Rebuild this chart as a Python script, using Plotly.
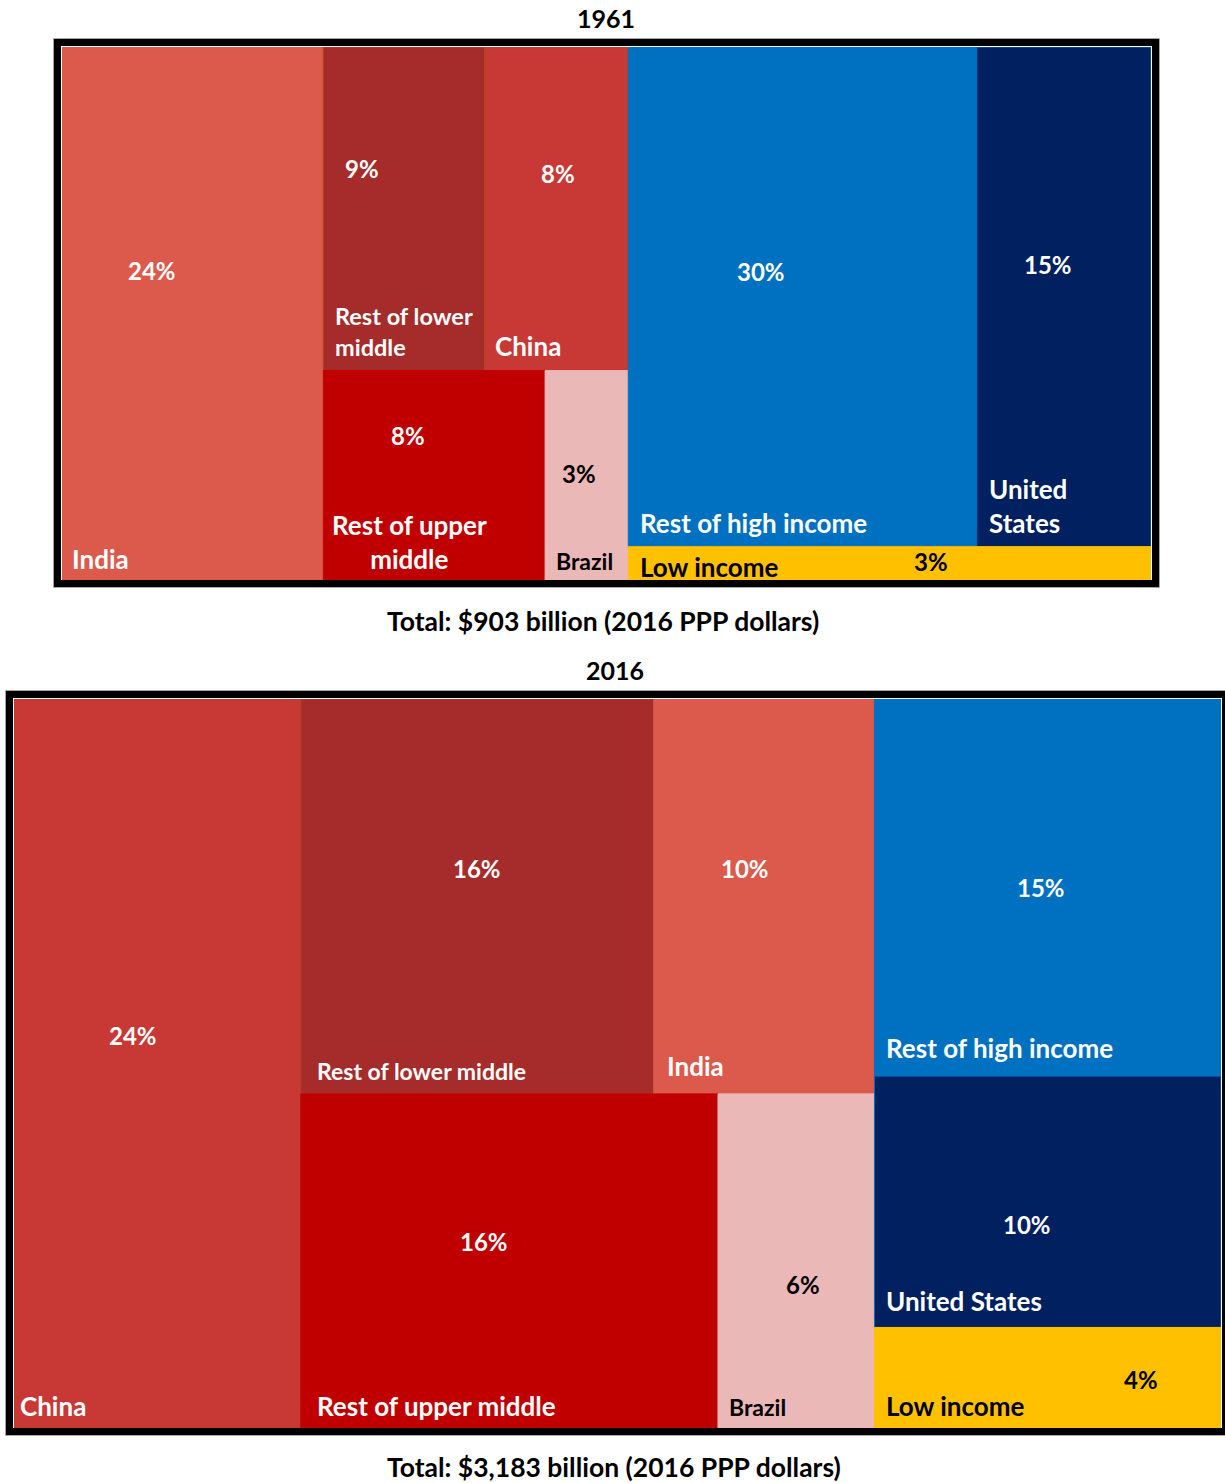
import plotly.graph_objects as go

# Share of world agricultural output by country group (%)
years = ["1961", "2016"]
totals_bn = [903, 3183]

names_1961 = ["India", "Rest of lower middle", "China", "Rest of upper middle", "Brazil",
              "Rest of high income", "United States", "Low income"]
shares_1961 = [24, 9, 8, 8, 3, 30, 15, 3]

names_2016 = ["China", "Rest of lower middle", "India", "Rest of upper middle", "Brazil",
              "Rest of high income", "United States", "Low income"]
shares_2016 = [24, 16, 10, 16, 6, 15, 10, 4]

# Slice-and-dice structure: columns -> rows -> cells
tiling_1961 = [[["India"]],
               [["Rest of lower middle", "China"], ["Rest of upper middle", "Brazil"]],
               [["Rest of high income", "United States"], ["Low income"]]]
tiling_2016 = [[["China"]],
               [["Rest of lower middle", "India"], ["Rest of upper middle", "Brazil"]],
               [["Rest of high income"], ["United States"], ["Low income"]]]

FILL = {"India": "#DB5A4B", "Rest of lower middle": "#A52C2B", "China": "#C83935",
        "Rest of upper middle": "#C00000", "Brazil": "#EBB8B8",
        "Rest of high income": "#0070C0", "United States": "#002060", "Low income": "#FFC000"}
EDGE = {"India": "#DB5A4B", "Rest of lower middle": "#B4411F", "China": "#B4411F",
        "Rest of upper middle": "#C00000", "Brazil": "#EBB8B8",
        "Rest of high income": "#0070C0", "United States": "#0070C0", "Low income": "#FFC000"}
DARK_TEXT = {"Brazil", "Low income"}

# label placement: pct = (fx, fy) inside cell; name either offset from bottom-left (dx, dy px)
# or centred at fractional position
LABELS_1961 = {
    "India": dict(pct=(0.344, 0.42), text="India", dx=8, dy=21),
    "Rest of lower middle": dict(pct=(0.24, 0.375), text="Rest of lower<br>middle", dx=10, dy=39, size=23.5),
    "China": dict(pct=(0.51, 0.39), text="China", dx=8, dy=25),
    "Rest of upper middle": dict(pct=(0.38, 0.31), text="Rest of upper<br>middle", center=(0.39, 0.817)),
    "Brazil": dict(pct=(0.41, 0.49), text="Brazil", dx=9, dy=19, size=23),
    "Rest of high income": dict(pct=(0.38, 0.45), text="Rest of high income", dx=10, dy=24),
    "United States": dict(pct=(0.41, 0.436), text="United<br>States", dx=10, dy=41),
    "Low income": dict(pct=(0.58, 0.43), text="Low income", dx=10, dy=13),
}
LABELS_2016 = {
    "China": dict(pct=(0.416, 0.461), text="China", dx=4, dy=22),
    "Rest of lower middle": dict(pct=(0.5, 0.43), text="Rest of lower middle", dx=14, dy=23, size=23),
    "India": dict(pct=(0.413, 0.428), text="India", dx=11, dy=28),
    "Rest of upper middle": dict(pct=(0.44, 0.443), text="Rest of upper middle", dx=14, dy=22),
    "Brazil": dict(pct=(0.545, 0.572), text="Brazil", dx=9, dy=21, size=23),
    "Rest of high income": dict(pct=(0.48, 0.5), text="Rest of high income", dx=10, dy=28),
    "United States": dict(pct=(0.44, 0.59), text="United States", dx=10, dy=26),
    "Low income": dict(pct=(0.77, 0.52), text="Low income", dx=10, dy=22),
}

W, H = 1225, 1483
FONT = "Lato, 'Open Sans', sans-serif"
NAME_SIZE = 26
PCT_SIZE = 24


def px_x(v):
    return v / W


def px_y(v):
    return 1 - v / H


# pixel boxes of the two plotting areas (inner edge of the frame)
AREAS = [dict(x0=62, x1=1151, y0=47, y1=580),
         dict(x0=14, x1=1221, y0=699, y1=1428)]


def tile(names, shares, tiling):
    val = dict(zip(names, shares))
    total = sum(shares)
    rects = {}
    x = 0.0
    for col in tiling:
        col_sum = sum(val[n] for row in col for n in row)
        y = 0.0
        for row in col:
            row_sum = sum(val[n] for n in row)
            row_h = row_sum / col_sum
            cx = x
            for n in row:
                w = col_sum * val[n] / row_sum
                rects[n] = (cx, cx + w, y, y + row_h)
                cx += w
            y += row_h
        x += col_sum
    return rects, total


fig = go.Figure()
annotations = []
shapes = []

datasets = [(names_1961, shares_1961, tiling_1961, LABELS_1961),
            (names_2016, shares_2016, tiling_2016, LABELS_2016)]

for i, (names, shares, tiling, labels) in enumerate(datasets):
    xa = "x" if i == 0 else "x2"
    ya = "y" if i == 0 else "y2"
    rects, total = tile(names, shares, tiling)
    for n, s in zip(names, shares):
        x0, x1, y0, y1 = rects[n]
        fig.add_trace(go.Scatter(
            x=[x0, x1, x1, x0, x0], y=[y0, y0, y1, y1, y0],
            fill="toself", fillcolor=FILL[n], mode="lines",
            line=dict(color=EDGE[n], width=1), xaxis=xa, yaxis=ya,
            name=n, hovertemplate=f"{n}: {s}%<extra></extra>"))
        lab = labels[n]
        tcol = "#000000" if n in DARK_TEXT else "#FFFFFF"
        size = lab.get("size", NAME_SIZE)
        fx, fy = lab["pct"]
        annotations.append(dict(
            x=x0 + fx * (x1 - x0), y=y0 + fy * (y1 - y0), xref=xa, yref=ya,
            text=f"<b>{s}%</b>", showarrow=False, xanchor="center", yanchor="middle",
            font=dict(family=FONT, size=PCT_SIZE, color=tcol)))
        if "center" in lab:
            cx, cy = lab["center"]
            annotations.append(dict(
                x=x0 + cx * (x1 - x0), y=y0 + cy * (y1 - y0), xref=xa, yref=ya,
                text=f"<b>{lab['text']}</b>", showarrow=False, xanchor="center",
                yanchor="middle", align="center",
                font=dict(family=FONT, size=size, color=tcol)))
        else:
            annotations.append(dict(
                x=x0, y=y1, xref=xa, yref=ya, xshift=lab["dx"], yshift=lab["dy"],
                text=f"<b>{lab['text']}</b>", showarrow=False, xanchor="left",
                yanchor="middle", align="left",
                font=dict(family=FONT, size=size, color=tcol)))

    a = AREAS[i]
    axis_x = dict(domain=[px_x(a["x0"]), px_x(a["x1"])], range=[0, total],
                  visible=False, fixedrange=True)
    axis_y = dict(domain=[px_y(a["y1"]), px_y(a["y0"])], range=[1, 0],
                  visible=False, fixedrange=True)
    if i == 0:
        fig.update_layout(xaxis=axis_x, yaxis=dict(axis_y, anchor="x"))
    else:
        fig.update_layout(xaxis2=dict(axis_x, anchor="y2"), yaxis2=dict(axis_y, anchor="x2"))

    # frame: thin grey outline and thick black border
    shapes.append(dict(type="rect", xref="paper", yref="paper",
                       x0=px_x(a["x0"] - 8.5), x1=px_x(a["x1"] + 8.5),
                       y0=px_y(a["y1"] + 7.5), y1=px_y(a["y0"] - 8.5),
                       line=dict(color="#A6A6A6", width=1)))
    shapes.append(dict(type="rect", xref="paper", yref="paper",
                       x0=px_x(a["x0"] - 4.5), x1=px_x(a["x1"] + 4.5),
                       y0=px_y(a["y1"] + 3.5), y1=px_y(a["y0"] - 4.5),
                       line=dict(color="#000000", width=7)))

    annotations.append(dict(
        x=px_x(606 if i == 0 else 615), y=px_y(a["y0"] - 29), xref="paper", yref="paper",
        text=f"<b>{years[i]}</b>", showarrow=False, xanchor="center", yanchor="middle",
        font=dict(family=FONT, size=25, color="#000000")))
    annotations.append(dict(
        x=px_x(603 if i == 0 else 614), y=px_y(a["y1"] + 41 if i == 0 else a["y1"] + 39),
        xref="paper", yref="paper",
        text=f"<b>Total: ${totals_bn[i]:,} billion (2016 PPP dollars)</b>",
        showarrow=False, xanchor="center", yanchor="middle",
        font=dict(family=FONT, size=26.5, color="#000000")))

fig.update_layout(width=W, height=H, margin=dict(l=0, r=0, t=0, b=0),
                  paper_bgcolor="white", plot_bgcolor="white", showlegend=False,
                  annotations=annotations, shapes=shapes)

fig.write_html("out.html")
